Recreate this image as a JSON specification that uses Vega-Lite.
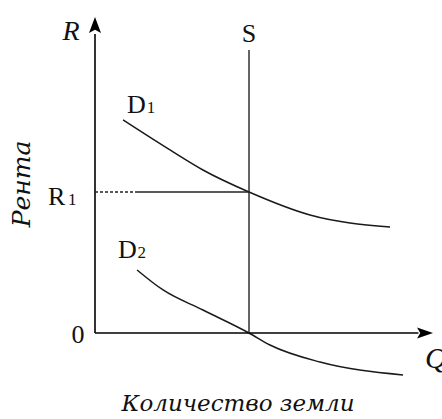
{
  "$schema": "https://vega.github.io/schema/vega-lite/v6.json",
  "width": 442,
  "height": 419,
  "padding": 0,
  "autosize": {"type": "none"},
  "background": "white",
  "config": {"view": {"stroke": null}},
  "datasets": {
    "curves": [
      {"curve": "D1", "q": 1.82, "r": 15.11},
      {"curve": "D1", "q": 4.87, "r": 12.98},
      {"curve": "D1", "q": 7.01, "r": 11.56},
      {"curve": "D1", "q": 10.0, "r": 10.0},
      {"curve": "D1", "q": 13.96, "r": 8.37},
      {"curve": "D1", "q": 19.16, "r": 7.52},
      {"curve": "D2", "q": 2.73, "r": 4.47},
      {"curve": "D2", "q": 4.42, "r": 3.05},
      {"curve": "D2", "q": 7.01, "r": 1.63},
      {"curve": "D2", "q": 10.0, "r": 0.0},
      {"curve": "D2", "q": 11.36, "r": -0.85},
      {"curve": "D2", "q": 14.61, "r": -2.06},
      {"curve": "D2", "q": 20.0, "r": -2.98}
    ],
    "axes": [
      {"q": 0, "r": 0, "q2": 0, "r2": 21.2},
      {"q": 0, "r": 0, "q2": 21.0, "r2": 0}
    ],
    "supply": [{"q": 10, "r": 0, "q2": 10, "r2": 20.07}],
    "r1solid": [{"q": 2.6, "r": 10, "q2": 10, "r2": 10}],
    "r1dash": [{"q": 0, "r": 10, "q2": 2.6, "r2": 10}],
    "arrowUp": [{"q": 0, "r": 21.84}],
    "arrowRight": [{"q": 21.43, "r": 0}],
    "bigLeft": [
      {"t": "D", "q": 2.08, "r": 15.6},
      {"t": "D", "q": 1.49, "r": 5.32},
      {"t": "R", "q": -3.05, "r": 9.08}
    ],
    "subs": [
      {"t": "1", "q": 3.36, "r": 15.6},
      {"t": "2", "q": 2.76, "r": 5.32},
      {"t": "1", "q": -1.75, "r": 9.08}
    ],
    "bigCenter": [
      {"t": "S", "q": 10, "r": 20.64},
      {"t": "0", "q": -1.1, "r": -0.71}
    ],
    "italR": [{"t": "R", "q": -1.56, "r": 20.78}],
    "italQ": [{"t": "Q", "q": 21.43, "r": -2.48}],
    "xtitle": [{"t": "Количество земли", "q": 9.29, "r": -5.53}],
    "ytitle": [{"t": "Рента", "q": -4.74, "r": 10.57}]
  },
  "encoding": {
    "x": {"field": "q", "type": "quantitative", "axis": null,
          "scale": {"domain": [-6.169, 22.532], "nice": false, "zero": false}},
    "y": {"field": "r", "type": "quantitative", "axis": null,
          "scale": {"domain": [-6.099, 23.617], "nice": false, "zero": false}}
  },
  "layer": [
    {
      "data": {"name": "curves"},
      "mark": {"type": "line", "interpolate": "monotone", "color": "#1a1a1a", "strokeWidth": 1.5},
      "encoding": {"detail": {"field": "curve"}}
    },
    {
      "data": {"name": "axes"},
      "mark": {"type": "rule", "color": "#000000", "strokeWidth": 1.6},
      "encoding": {"x2": {"field": "q2"}, "y2": {"field": "r2"}}
    },
    {
      "data": {"name": "supply"},
      "mark": {"type": "rule", "color": "#222222", "strokeWidth": 1.4},
      "encoding": {"x2": {"field": "q2"}, "y2": {"field": "r2"}}
    },
    {
      "data": {"name": "r1solid"},
      "mark": {"type": "rule", "color": "#222222", "strokeWidth": 1.4},
      "encoding": {"x2": {"field": "q2"}, "y2": {"field": "r2"}}
    },
    {
      "data": {"name": "r1dash"},
      "mark": {"type": "rule", "color": "#222222", "strokeWidth": 1.4, "strokeDash": [3, 2]},
      "encoding": {"x2": {"field": "q2"}, "y2": {"field": "r2"}}
    },
    {
      "data": {"name": "arrowUp"},
      "mark": {"type": "point", "shape": "M0,-1L0.75,1L0,0.6L-0.75,1Z", "filled": true, "color": "#000000", "size": 256, "opacity": 1}
    },
    {
      "data": {"name": "arrowRight"},
      "mark": {"type": "point", "shape": "M1,0L-1,0.7L-0.6,0L-1,-0.7Z", "filled": true, "color": "#000000", "size": 256, "opacity": 1}
    },
    {
      "data": {"name": "bigLeft"},
      "mark": {"type": "text", "font": "Liberation Serif", "fontSize": 26, "align": "left", "baseline": "alphabetic", "color": "#111111"},
      "encoding": {"text": {"field": "t"}}
    },
    {
      "data": {"name": "subs"},
      "mark": {"type": "text", "font": "Liberation Serif", "fontSize": 17, "align": "left", "baseline": "alphabetic", "color": "#111111"},
      "encoding": {"text": {"field": "t"}}
    },
    {
      "data": {"name": "bigCenter"},
      "mark": {"type": "text", "font": "Liberation Serif", "fontSize": 26, "align": "center", "baseline": "alphabetic", "color": "#111111"},
      "encoding": {"text": {"field": "t"}}
    },
    {
      "data": {"name": "italR"},
      "mark": {"type": "text", "font": "Liberation Serif", "fontStyle": "italic", "fontSize": 28, "align": "center", "baseline": "alphabetic", "color": "#111111"},
      "encoding": {"text": {"field": "t"}}
    },
    {
      "data": {"name": "italQ"},
      "mark": {"type": "text", "font": "Liberation Serif", "fontStyle": "italic", "fontSize": 30, "align": "left", "baseline": "alphabetic", "color": "#111111"},
      "encoding": {"text": {"field": "t"}}
    },
    {
      "data": {"name": "xtitle"},
      "mark": {"type": "text", "font": "DejaVu Serif", "fontStyle": "italic", "fontSize": 23, "align": "center", "baseline": "alphabetic", "color": "#111111"},
      "encoding": {"text": {"field": "t"}}
    },
    {
      "data": {"name": "ytitle"},
      "mark": {"type": "text", "font": "DejaVu Serif", "fontStyle": "italic", "fontSize": 25, "angle": 270, "align": "center", "baseline": "middle", "color": "#111111"},
      "encoding": {"text": {"field": "t"}}
    }
  ]
}
